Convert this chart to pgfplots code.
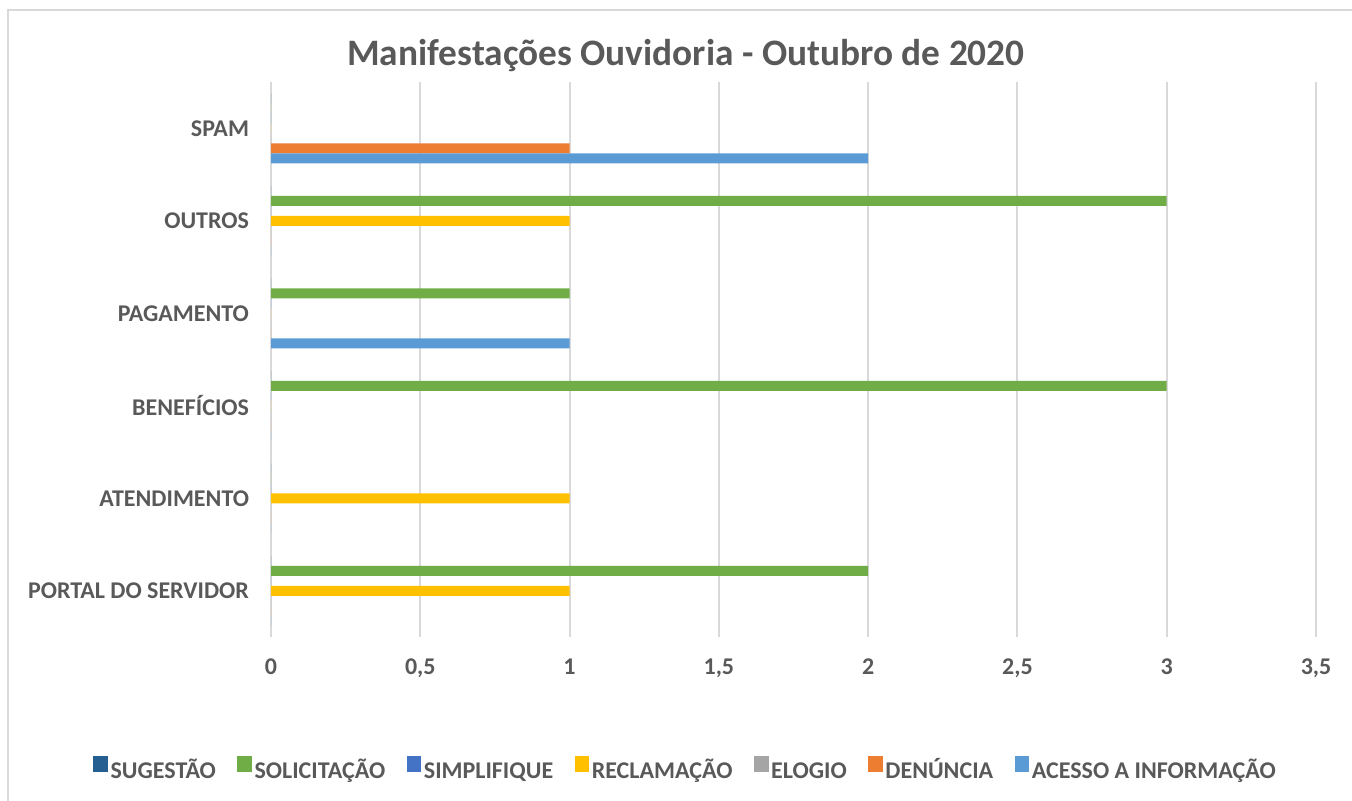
\documentclass[border=0pt]{standalone}
\usepackage{pgfplots}
\pgfplotsset{compat=1.18}
\usepackage{fontspec}
\setmainfont{Carlito}
\definecolor{txt}{HTML}{595959}
\definecolor{gridc}{HTML}{D9D9D9}
\definecolor{cSug}{HTML}{255E91}
\definecolor{cSol}{HTML}{70AD47}
\definecolor{cSim}{HTML}{4472C4}
\definecolor{cRec}{HTML}{FFC000}
\definecolor{cElo}{HTML}{A5A5A5}
\definecolor{cDen}{HTML}{ED7D31}
\definecolor{cAce}{HTML}{5B9BD5}
\begin{document}
\begin{tikzpicture}[x=1pt,y=1pt]
\path[use as bounding box] (0,0) rectangle (1014,600);
\draw[gridc, line width=1.2pt] (6,-5) -- (6,592.5) -- (1020,592.5);
\node[font=\bfseries\fontsize{28}{30}\selectfont, text=txt] at (514.5,558) {Manifestações Ouvidoria - Outubro de 2020};
\begin{axis}[
  at={(203.25pt,122.25pt)}, anchor=south west,
  scale only axis, width=783.75pt, height=416.25pt,
  xmin=0, xmax=3.5, ymin=-0.5, ymax=5.5,
  xtick={0,0.5,...,3.5},
  ytick={0,1,2,3,4,5},
  yticklabels={PORTAL DO SERVIDOR,ATENDIMENTO,BENEFÍCIOS,PAGAMENTO,OUTROS,SPAM},
  /pgf/number format/assume math mode=true,
  /pgf/number format/use comma,
  xticklabel style={font=\bfseries\fontsize{18}{20}\selectfont, text=txt, yshift=-13pt},
  yticklabel style={font=\bfseries\fontsize{18}{20}\selectfont, text=txt, xshift=-13pt},
  axis x line*=bottom, axis y line*=left,
  x axis line style={draw=none},
  y axis line style={gridc, line width=1.5pt},
  major tick length=0pt,
  xmajorgrids, major grid style={gridc, line width=1.5pt},
  xbar, bar width=7.5pt,
  legend columns=7,
  legend style={at={(0.397,-0.238)}, anchor=center, draw=none, fill=none,
    font=\bfseries\fontsize{18}{20}\selectfont, text=txt,
    nodes={text height=12pt, text depth=1pt, inner xsep=2pt},
    /tikz/every even column/.append style={column sep=14pt}},
  legend cell align=left,
  legend image code/.code={\fill[#1] (0pt,-1pt) rectangle (11pt,11.5pt);},
]
\addplot[fill=cSug, draw=none, bar shift=22.5pt] coordinates {(0,0) (0,1) (0,2) (0,3) (0,4) (0,5)};
\addplot[fill=cSol, draw=none, bar shift=15pt] coordinates {(2,0) (0,1) (3,2) (1,3) (3,4) (0,5)};
\addplot[fill=cSim, draw=none, bar shift=7.5pt] coordinates {(0,0) (0,1) (0,2) (0,3) (0,4) (0,5)};
\addplot[fill=cRec, draw=none, bar shift=0pt] coordinates {(1,0) (1,1) (0,2) (0,3) (1,4) (0,5)};
\addplot[fill=cElo, draw=none, bar shift=-7.5pt] coordinates {(0,0) (0,1) (0,2) (0,3) (0,4) (0,5)};
\addplot[fill=cDen, draw=none, bar shift=-15pt] coordinates {(0,0) (0,1) (0,2) (0,3) (0,4) (1,5)};
\addplot[fill=cAce, draw=none, bar shift=-22.5pt] coordinates {(0,0) (0,1) (0,2) (1,3) (0,4) (2,5)};
\legend{SUGESTÃO,SOLICITAÇÃO,SIMPLIFIQUE,RECLAMAÇÃO,ELOGIO,DENÚNCIA,ACESSO A INFORMAÇÃO}
\end{axis}
\end{tikzpicture}
\end{document}
